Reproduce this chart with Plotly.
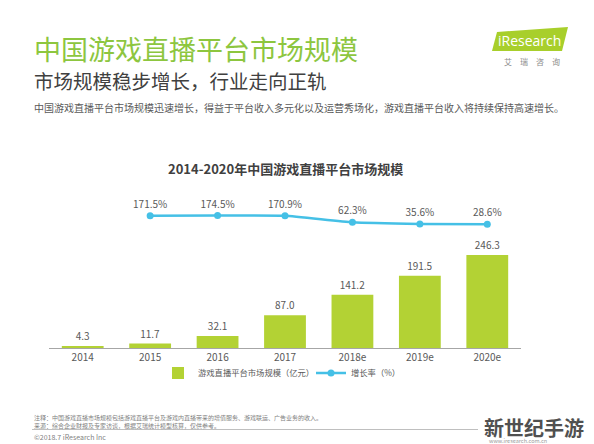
import plotly.graph_objects as go

# data
years = ["2014", "2015", "2016", "2017", "2018e", "2019e", "2020e"]
market_size = [4.3, 11.7, 32.1, 87.0, 141.2, 191.5, 246.3]
growth_years = ["2015", "2016", "2017", "2018e", "2019e", "2020e"]
growth_rate = [171.5, 174.5, 170.9, 62.3, 35.6, 28.6]

FONT = "Noto Sans CJK SC"
GREEN = "#b3d234"
BLUE = "#45c0e6"
GREY = "#595959"

# plot area in pixels: x 49..521, y 190..348
L, R, T, B = 49, 521, 190, 348


def px(x):
    return (x - L) / (R - L)


def py(y):
    return (B - y) / (B - T)


fig = go.Figure()

fig.add_trace(go.Bar(
    x=years, y=market_size, name="游戏直播平台市场规模（亿元）",
    marker=dict(color=GREEN, line=dict(width=0)),
    text=[f"{v:.1f}" for v in market_size], textposition="outside",
    textfont=dict(size=10, color=GREY), cliponaxis=False,
))
fig.add_trace(go.Scatter(
    x=growth_years, y=growth_rate, name="增长率（%）", yaxis="y2",
    mode="lines+markers+text",
    line=dict(color=BLUE, width=2.5, shape="spline", smoothing=0.4),
    marker=dict(color=BLUE, size=7),
    text=[f"{v:.1f}%" for v in growth_rate], textposition="top center",
    textfont=dict(size=10, color=GREY), cliponaxis=False,
))

annotations = [
    dict(text="中国游戏直播平台市场规模", x=px(32), y=py(48), font=dict(size=27, color="#8dc63f")),
    dict(text="市场规模稳步增长，行业走向正轨", x=px(32), y=py(80), font=dict(size=19.5, color="#404040")),
    dict(text="中国游戏直播平台市场规模迅速增长，得益于平台收入多元化以及运营秀场化，游戏直播平台收入将持续保持高速增长。",
         x=px(32), y=py(108), font=dict(size=10, color=GREY)),
    dict(text="注释：中国游戏直播市场规模包括游戏直播平台及游戏内直播带来的增值服务、游戏联运、广告业务的收入。",
         x=px(32), y=py(417), font=dict(size=6, color="#7f7f7f")),
    dict(text="来源：综合企业财报及专家访谈，根据艾瑞统计模型核算，仅供参考。",
         x=px(32), y=py(425.5), font=dict(size=6, color="#7f7f7f")),
    dict(text="©2018.7 iResearch Inc", x=px(32), y=py(437), font=dict(size=7, color="#7f7f7f")),
    dict(text="艾　瑞　咨　询", x=px(532), y=py(61), xanchor="center", font=dict(size=8, color="#8c8c8c")),
    dict(text="iResearch", x=px(529), y=py(40), xanchor="center", font=dict(size=14, color="white", family="Open Sans")),
    dict(text="<b>2014-2020年中国游戏直播平台市场规模</b>", x=px(285.5), y=py(168), xanchor="center",
         font=dict(size=13, color="#404040")),
    dict(text="<b>新世纪手游</b>", x=px(534), y=py(427), xanchor="center",
         font=dict(size=20, color="#505050")),
    dict(text="www.iresearch.com.cn", x=px(518), y=py(441), xanchor="center",
         font=dict(size=5.5, color="#9a9a9a")),
]
for a in annotations:
    a.setdefault("xanchor", "left")
    a.update(xref="paper", yref="paper", yanchor="middle", showarrow=False)

shapes = [
    # logo block
    dict(type="path", xref="paper", yref="paper",
         path=f"M {px(497)},{py(32)} L {px(568)},{py(27)} L {px(562)},{py(51)} L {px(492)},{py(51)} Z",
         fillcolor="#a8cf2b", line=dict(width=0)),
    # footer rule
    dict(type="line", xref="paper", yref="paper", x0=px(32), x1=px(478), y0=py(429.5), y1=py(429.5),
         line=dict(color="#bfbfbf", width=1)),
]

fig.update_layout(
    width=594, height=444,
    margin=dict(l=L, r=594 - R, t=T, b=444 - B),
    paper_bgcolor="white", plot_bgcolor="white",
    font=dict(family=FONT, color=GREY),
    bargap=0.38,
    showlegend=True,
    legend=dict(orientation="h", x=px(158), xanchor="left", y=py(373), yanchor="middle",
                font=dict(size=8.3, color=GREY), itemwidth=30, entrywidth=108,
                bgcolor="rgba(0,0,0,0)"),
    xaxis=dict(type="category", showline=True, linecolor="#a6a6a6", linewidth=1,
               ticks="", tickfont=dict(size=10, color=GREY), showgrid=False, fixedrange=True),
    yaxis=dict(range=[0, 418.4], visible=False, showgrid=False),
    yaxis2=dict(range=[-2019, 597], overlaying="y", visible=False, showgrid=False),
    annotations=annotations,
    shapes=shapes,
)

# page body margin would otherwise shift the figure by 8px
fig.write_html("out.html", config={"displayModeBar": False},
               post_script="document.body.style.margin = '0';")
